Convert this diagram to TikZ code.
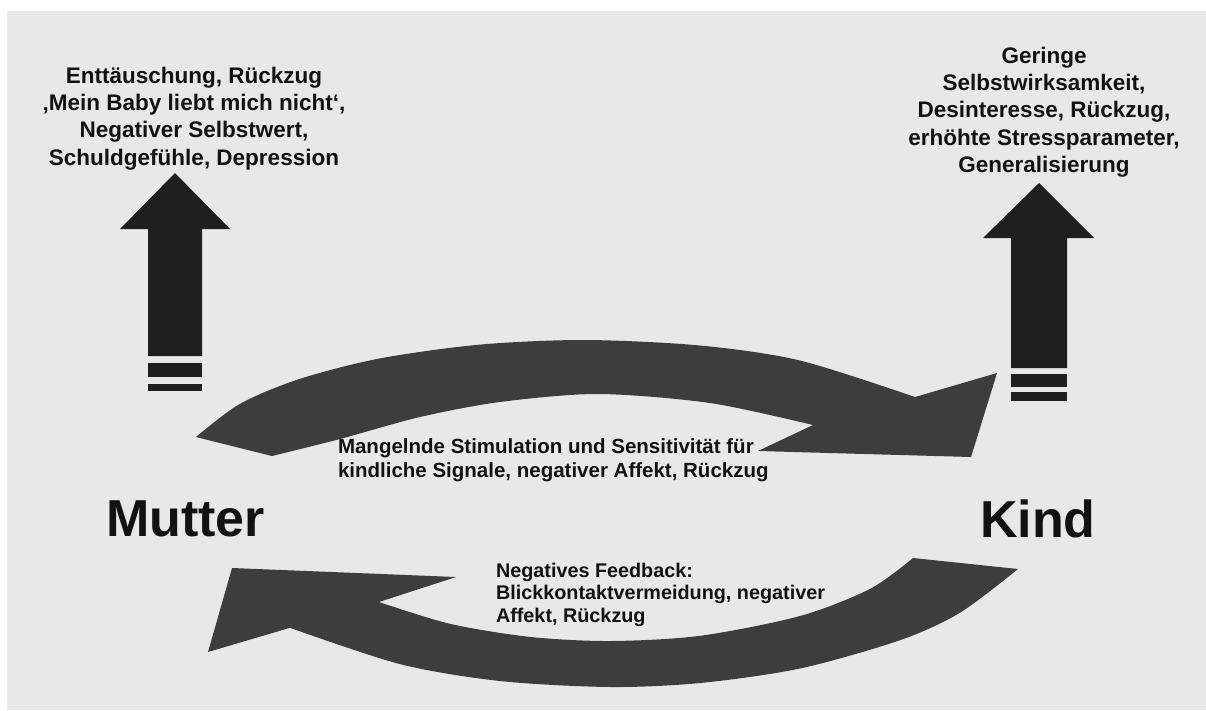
\documentclass[tikz,border=0pt]{standalone}
\usepackage{fontspec}
\setmainfont{Liberation Sans}
\begin{document}
\begin{tikzpicture}[x=1pt,y=-1pt,
  every node/.style={inner sep=0pt, outer sep=0pt, text=black!93},
  bigword/.style={font=\fontsize{52}{60}\selectfont\bfseries, anchor=base west},
  toplabel/.style={font=\fontsize{22.5}{27.3}\selectfont\bfseries, align=center, anchor=north},
  midlabel/.style={font=\fontsize{20.5}{24}\selectfont\bfseries, align=left, anchor=north west},
  lowlabel/.style={font=\fontsize{19.8}{22.6}\selectfont\bfseries, align=left, anchor=north west},
  uparrow/.style={fill=black!88},
  looparrow/.style={fill=black!76},
]
\useasboundingbox (0,0) rectangle (1206,710);
% page and grey panel
\fill[white] (0,0) rectangle (1206,710);
\fill[black!9] (7,11) rectangle (1206,710);

% upward arrow above the mother
\fill[uparrow] (175,173) -- (230,229) -- (202,229) -- (202,356) -- (148,356)
  -- (148,229) -- (120,229) -- cycle;
\fill[uparrow] (148,363) rectangle (202,377);
\fill[uparrow] (148,384) rectangle (202,391);

% upward arrow above the child
\fill[uparrow] (1039,183) -- (1094,238) -- (1067,238) -- (1067,368) -- (1011,368)
  -- (1011,238) -- (983,238) -- cycle;
\fill[uparrow] (1011,374) rectangle (1067,387);
\fill[uparrow] (1011,392) rectangle (1067,401);

% curved arrow from mother to child (upper arc)
\fill[looparrow] (196,437) -- (272,456)
  -- plot[smooth] coordinates {(272,456) (340,439) (420,417) (500,402) (598,394) (710,403) (813,425)}
  -- (758,451) -- (971,457) -- (997,373) -- (915,397)
  -- plot[smooth] coordinates {(915,397) (800,360.5) (700,345.5) (585,340) (480,344.6)
       (380,358.4) (300,378.8) (240,403.8) (196,437)}
  -- cycle;

% curved arrow from child back to mother (lower arc)
\fill[looparrow] (913,558) -- (1018,569)
  -- plot[smooth] coordinates {(1018,569) (960,612.7) (900,640.2) (800,668.5) (700,683)
       (610,687) (500,681) (400,664.1) (290,627.8)}
  -- (208,652) -- (232,568) -- (456,577) -- (379,602)
  -- plot[smooth] coordinates {(379,602) (450,623.8) (530,636.9) (610,641) (700,635.8)
       (800,616) (870,588.9) (913,558)}
  -- cycle;

% labels
\node[toplabel] (motherfx) at (194,66.8)
  {Enttäuschung, Rückzug\\‚Mein Baby liebt mich nicht‘,\\Negativer Selbstwert,\\Schuldgefühle, Depression};
\node[toplabel] (childfx) at (1044,46.8)
  {Geringe\\Selbstwirksamkeit,\\Desinteresse, Rückzug,\\erhöhte Stressparameter,\\Generalisierung};
\node[midlabel] (toward) at (338,438.3)
  {Mangelnde Stimulation und Sensitivität für\\kindliche Signale, negativer Affekt, Rückzug};
\node[lowlabel] (back) at (496,563)
  {Negatives Feedback:\\Blickkontaktvermeidung, negativer\\Affekt, Rückzug};

\node[bigword] (mutter) at (106,536) {Mutter};
\node[bigword] (kind) at (980,537) {Kind};
\end{tikzpicture}
\end{document}
